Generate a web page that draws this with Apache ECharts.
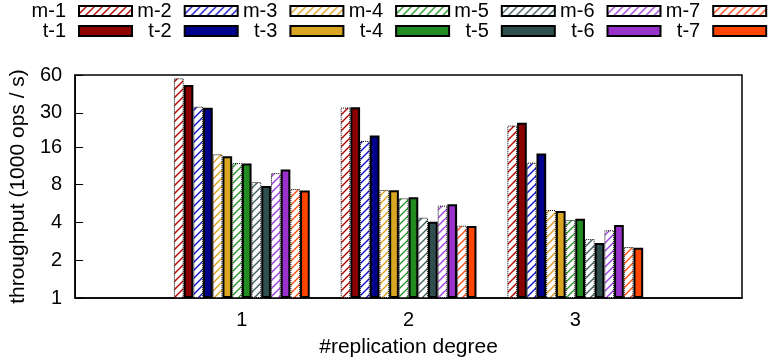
<!DOCTYPE html>
<html>
<head>
<meta charset="utf-8">
<title>throughput</title>
<script src="https://cdn.jsdelivr.net/npm/echarts@6/dist/echarts.min.js"></script>
<style>
  html, body { margin: 0; padding: 0; background: #fff; }
  #main { width: 768px; height: 364px; }
</style>
</head>
<body>
<div id="main"></div>
<script>
// x categories (replication degree) and y tick labels
var degrees = [1, 2, 3];
var yTicks = [1, 2, 4, 8, 16, 30, 60];

// throughput in 1000 ops/s, one value per replication degree
var m1 = [56.5, 33.0, 23.7];
var t1 = [50.0, 33.2, 25.0];
var m2 = [33.5, 17.9, 12.0];
var t2 = [32.9, 19.8, 14.2];
var m3 = [14.0, 7.26, 5.03];
var t3 = [13.5, 7.23, 4.94];
var m4 = [11.9, 6.24, 4.19];
var t4 = [11.8, 6.35, 4.29];
var m5 = [8.4, 4.37, 2.95];
var t5 = [7.8, 4.06, 2.75];
var m6 = [9.9, 5.45, 3.47];
var t6 = [10.6, 5.58, 3.82];
var m7 = [7.4, 3.77, 2.55];
var t7 = [7.2, 3.75, 2.52];

var mNames = ['m-1', 'm-2', 'm-3', 'm-4', 'm-5', 'm-6', 'm-7'];
var tNames = ['t-1', 't-2', 't-3', 't-4', 't-5', 't-6', 't-7'];
var mData = [m1, m2, m3, m4, m5, m6, m7];
var tData = [t1, t2, t3, t4, t5, t6, t7];
var colors = ['#8b0000', '#00008b', '#daa520', '#228b22', '#2f4f4f', '#9932cc', '#ff4500'];
var hatchColors = ['#b00000', '#1010c8', '#e0a020', '#2a9a2a', '#3f6060', '#a040e0', '#ff4a10'];

var FONT = 'Liberation Sans';

// white background with "/" hatch lines
function hatch(color) {
  var s = 8;
  var c = document.createElement('canvas');
  c.width = s; c.height = s;
  var ctx = c.getContext('2d');
  ctx.fillStyle = '#fff';
  ctx.fillRect(0, 0, s, s);
  ctx.strokeStyle = color;
  ctx.lineWidth = 1.4;
  ctx.beginPath();
  ctx.moveTo(0, s); ctx.lineTo(s, 0);
  ctx.moveTo(-1, 1); ctx.lineTo(1, -1);
  ctx.moveTo(s - 1, s + 1); ctx.lineTo(s + 1, s - 1);
  ctx.stroke();
  return { image: c, repeat: 'repeat' };
}

function pairs(arr) {
  return degrees.map(function (d, i) { return [d, arr[i]]; });
}

var series = [];
for (var k = 0; k < 7; k++) {
  series.push({
    name: mNames[k],
    type: 'bar',
    barWidth: 9.7,
    barGap: '0%',
    data: pairs(mData[k]),
    itemStyle: { color: hatch(hatchColors[k]), borderColor: '#000', borderWidth: 1, borderType: 'dotted' }
  });
  series.push({
    name: tNames[k],
    type: 'bar',
    barWidth: 9.7,
    barGap: '0%',
    data: pairs(tData[k]),
    itemStyle: { color: colors[k], borderColor: '#000', borderWidth: 2 }
  });
}

// gnuplot-style key: right-aligned text, then the sample box.
// one legend per entry so every sample box sits in a fixed column
var legends = [];
function keyEntry(name, col, top) {
  var boxRight = 133 + 105.7 * col;
  return {
    top: top,
    right: 768 - boxRight,
    padding: 0,
    align: 'right',
    icon: 'rect',
    itemWidth: 53,
    itemHeight: 10,
    selectedMode: false,
    data: [name],
    textStyle: { fontSize: 20, fontFamily: FONT, color: '#000', padding: [0, 8, 0, 0] }
  };
}
for (var j = 0; j < 7; j++) {
  legends.push(keyEntry(mNames[j], j, 1));
  legends.push(keyEntry(tNames[j], j, 21));
}

var chart = echarts.init(document.getElementById('main'));
chart.setOption({
  animation: false,
  backgroundColor: '#fff',
  legend: legends,
  grid: { left: 75, right: 26, top: 75, bottom: 66, show: true, borderColor: '#000', borderWidth: 1.5 },
  xAxis: {
    type: 'value',
    min: 0,
    max: 4,
    interval: 1,
    name: '#replication degree',
    nameLocation: 'middle',
    nameGap: 39,
    nameTextStyle: { fontSize: 21, fontFamily: FONT, color: '#000' },
    axisLine: { show: true, lineStyle: { color: '#000', width: 1.5 } },
    axisTick: { show: false },
    splitLine: { show: false },
    axisLabel: {
      fontSize: 20, fontFamily: FONT, color: '#000', margin: 12,
      formatter: function (v) { return degrees.indexOf(v) >= 0 ? String(v) : ''; }
    }
  },
  yAxis: {
    type: 'log',
    logBase: 2,
    min: 1,
    max: 60,
    name: 'throughput (1000 ops / s)',
    nameLocation: 'middle',
    nameGap: 38,
    nameTextStyle: { fontSize: 21, fontFamily: FONT, color: '#000' },
    axisLine: { show: true, lineStyle: { color: '#000', width: 1.5 } },
    axisTick: { show: true, inside: true, length: 8, customValues: yTicks, lineStyle: { color: '#000', width: 1 } },
    splitLine: { show: false },
    axisLabel: { fontSize: 20, fontFamily: FONT, color: '#000', margin: 13, customValues: yTicks }
  },
  series: series
});
</script>
</body>
</html>
